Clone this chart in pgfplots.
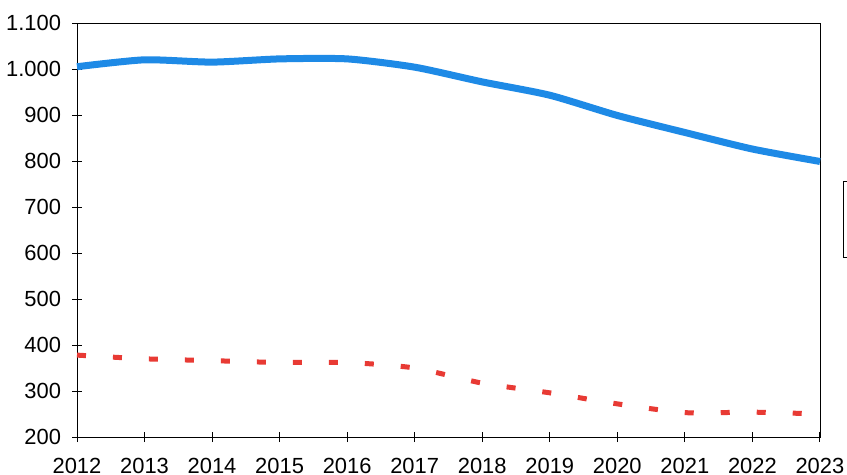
\documentclass[border=0pt]{standalone}
\usepackage{pgfplots}
\pgfplotsset{compat=1.18}
\usepackage{fontspec}
\setmainfont{Liberation Sans}
\definecolor{blueline}{RGB}{30,138,230}
\definecolor{redline}{RGB}{232,58,52}
\begin{document}
\begin{tikzpicture}[x=1bp,y=1bp]
\useasboundingbox (0,0) rectangle (423.5,237.5);
\begin{axis}[
  at={(38.5bp,19bp)}, anchor=south west,
  scale only axis,
  width=371.5bp, height=207bp,
  xmin=2012, xmax=2023, ymin=200, ymax=1100,
  xtick={2012,...,2023},
  ytick={200,300,...,1100},
  xtick pos=bottom, ytick pos=left,
  tick align=center,
  major tick length=5bp,
  tick style={black, line width=0.5bp},
  axis line style={black, line width=0.5bp},
  /pgf/number format/assume math mode=true,
  /pgf/number format/1000 sep={.},
  xticklabel style={/pgf/number format/1000 sep={}, font=\fontsize{11}{13}\selectfont, yshift=-4.5bp},
  yticklabel style={font=\fontsize{11}{13}\selectfont, xshift=-2bp},
  clip=false,
]
\addplot[blueline, line width=3.5bp, smooth, tension=0.4] coordinates {
(2012,1005) (2013,1020) (2014,1015) (2015,1022) (2016,1022) (2017,1004)
(2018,972) (2019,943) (2020,899) (2021,862) (2022,826) (2023,799)
};
\addplot[redline, line width=2.5bp, dash pattern=on 4.5bp off 13.5bp, smooth, tension=0.4] coordinates {
(2012,378) (2013,370) (2014,366) (2015,362) (2016,362) (2017,350)
(2018,317) (2019,296) (2020,272) (2021,253) (2022,254) (2023,250)
};
\end{axis}
\draw[black, line width=0.5bp] (421.5,108.5) rectangle (440,146.5);
\end{tikzpicture}
\end{document}
